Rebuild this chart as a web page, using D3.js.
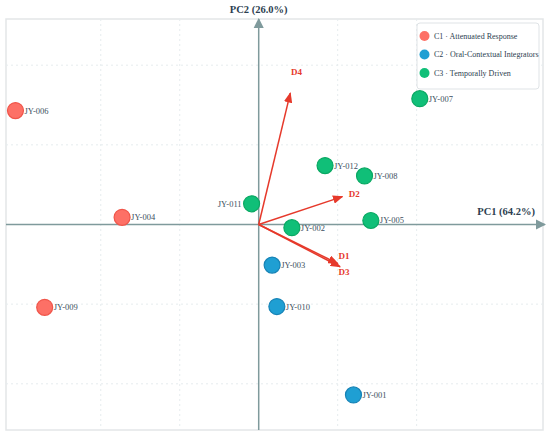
<!DOCTYPE html>
<html>
<head>
<meta charset="utf-8">
<script src="https://cdn.jsdelivr.net/npm/d3@7"></script>
<style>
  body { margin: 0; background: #fff; }
  svg { font-family: "Liberation Serif", "DejaVu Serif", serif; }
</style>
</head>
<body>
<div id="chart"></div>
<script>
// Dados: scores das amostras
var samples = ["JY-006", "JY-004", "JY-011", "JY-009", "JY-007", "JY-012", "JY-008", "JY-005", "JY-002", "JY-003", "JY-010", "JY-001"];
var pc1 = [-3.08, -1.73, -0.09, -2.71, 2.04, 0.84, 1.34, 1.42, 0.42, 0.17, 0.23, 1.20];
var pc2 = [1.43, 0.09, 0.26, -1.04, 1.58, 0.74, 0.61, 0.05, -0.04, -0.51, -1.03, -2.14];
var cluster = ["C1", "C1", "C3", "C1", "C3", "C3", "C3", "C3", "C3", "C2", "C2", "C2"];

// Loadings (setas)
var loadNames = ["D4", "D2", "D1", "D3"];
var loadPC1 = [0.40, 1.06, 1.00, 1.03];
var loadPC2 = [1.65, 0.35, -0.49, -0.53];

// Legenda
var clusterKeys = ["C1", "C2", "C3"];
var clusterLabels = ["C1 · Attenuated Response", "C2 · Oral-Contextual Integrators", "C3 · Temporally Driven"];

var gridTicks = [-2, -1, 1, 2];
var axisLabelX = "PC1 (64.2%)";
var axisLabelY = "PC2 (26.0%)";

// Tamanho do svg
var w = 550, h = 435;
var margin = {top: 19, right: 7, bottom: 5, left: 6};

var svg = d3.select("#chart")
  .append("svg")
  .attr("width", w)
  .attr("height", h);

var x = d3.scaleLinear().domain([-3.2, 3.6]).range([margin.left, w - margin.right]);
var y = d3.scaleLinear().domain([-2.58, 2.58]).range([h - margin.bottom, margin.top]);

var fill = d3.scaleOrdinal().domain(clusterKeys).range(["#fd7066", "#1f9fd3", "#10bf78"]);
var stroke = d3.scaleOrdinal().domain(clusterKeys).range(["#f0554a", "#1783b6", "#0aa863"]);

var axisColor = "#7f9a9c";
var textColor = "#2c3e50";
var arrowRed = "#e6392b";

// Moldura
svg.append("rect")
  .attr("x", x.range()[0])
  .attr("y", y.range()[1])
  .attr("width", x.range()[1] - x.range()[0])
  .attr("height", y.range()[0] - y.range()[1])
  .attr("fill", "none")
  .attr("stroke", "#e3e6e8")
  .attr("stroke-width", 1.5);

// Grade
svg.selectAll("vgrid")
  .data(gridTicks)
  .enter()
  .append("line")
  .attr("x1", function(d){ return x(d); })
  .attr("x2", function(d){ return x(d); })
  .attr("y1", y.range()[1])
  .attr("y2", y.range()[0])
  .attr("stroke", "#e6ecee")
  .attr("stroke-dasharray", "2,3");

svg.selectAll("hgrid")
  .data(gridTicks)
  .enter()
  .append("line")
  .attr("y1", function(d){ return y(d); })
  .attr("y2", function(d){ return y(d); })
  .attr("x1", x.range()[0])
  .attr("x2", x.range()[1])
  .attr("stroke", "#e6ecee")
  .attr("stroke-dasharray", "2,3");

// Marcadores de seta
var defs = svg.append("defs");
defs.append("marker")
  .attr("id", "axisHead")
  .attr("viewBox", "0 0 10 10")
  .attr("refX", 9).attr("refY", 5)
  .attr("markerWidth", 7).attr("markerHeight", 7)
  .attr("markerUnits", "strokeWidth")
  .attr("orient", "auto")
  .append("path")
  .attr("d", "M0,0 L10,5 L0,10 z")
  .attr("fill", axisColor);

defs.append("marker")
  .attr("id", "loadHead")
  .attr("viewBox", "0 0 10 8")
  .attr("refX", 9).attr("refY", 4)
  .attr("markerWidth", 7).attr("markerHeight", 5.6)
  .attr("markerUnits", "strokeWidth")
  .attr("orient", "auto")
  .append("path")
  .attr("d", "M0,0 L10,4 L0,8 z")
  .attr("fill", arrowRed);

// Eixos PC1 e PC2
svg.append("line")
  .attr("x1", x.range()[0]).attr("y1", y(0))
  .attr("x2", x.range()[1] + 2).attr("y2", y(0))
  .attr("stroke", axisColor)
  .attr("stroke-width", 1.5)
  .attr("marker-end", "url(#axisHead)");

svg.append("line")
  .attr("x1", x(0)).attr("y1", y.range()[0])
  .attr("x2", x(0)).attr("y2", y.range()[1])
  .attr("stroke", axisColor)
  .attr("stroke-width", 1.5)
  .attr("marker-end", "url(#axisHead)");

svg.append("text")
  .attr("x", x.range()[1] - 8)
  .attr("y", y(0) - 10)
  .attr("text-anchor", "end")
  .attr("font-weight", "bold")
  .attr("font-size", "10.5px")
  .attr("fill", textColor)
  .text(axisLabelX);

svg.append("text")
  .attr("x", x(0))
  .attr("y", 13)
  .attr("text-anchor", "middle")
  .attr("font-weight", "bold")
  .attr("font-size", "10.5px")
  .attr("fill", textColor)
  .text(axisLabelY);

// Setas de loadings
var loads = loadNames.map(function(n, i){
  return {name: n, a: loadPC1[i], b: loadPC2[i]};
});

svg.selectAll("loadLine")
  .data(loads)
  .enter()
  .append("line")
  .attr("x1", x(0)).attr("y1", y(0))
  .attr("x2", function(d){ return x(d.a); })
  .attr("y2", function(d){ return y(d.b); })
  .attr("stroke", arrowRed)
  .attr("stroke-width", 1.5)
  .attr("marker-end", "url(#loadHead)");

var labelOffset = {D4: [0.08, 0.27], D2: [0.15, 0.04], D1: [0.08, 0.1], D3: [0.05, -0.07]};
svg.selectAll("loadLabel")
  .data(loads)
  .enter()
  .append("text")
  .attr("x", function(d){ return x(d.a + labelOffset[d.name][0]); })
  .attr("y", function(d){ return y(d.b + labelOffset[d.name][1]); })
  .attr("text-anchor", "middle")
  .attr("dy", "0.35em")
  .attr("font-weight", "bold")
  .attr("font-size", "9px")
  .attr("fill", arrowRed)
  .text(function(d){ return d.name; });

// Pontos
var points = samples.map(function(s, i){
  return {id: s, a: pc1[i], b: pc2[i], c: cluster[i]};
});

svg.selectAll("dot")
  .data(points)
  .enter()
  .append("circle")
  .attr("cx", function(d){ return x(d.a); })
  .attr("cy", function(d){ return y(d.b); })
  .attr("r", 8)
  .attr("fill", function(d){ return fill(d.c); })
  .attr("stroke", function(d){ return stroke(d.c); })
  .attr("stroke-width", 1.2);

svg.selectAll("dotLabel")
  .data(points)
  .enter()
  .append("text")
  .attr("x", function(d){ return d.id == "JY-011" ? x(d.a) - 10 : x(d.a) + 9; })
  .attr("y", function(d){ return y(d.b); })
  .attr("dy", "0.35em")
  .attr("text-anchor", function(d){ return d.id == "JY-011" ? "end" : "start"; })
  .attr("font-size", "8.5px")
  .attr("fill", "#3d4f60")
  .text(function(d){ return d.id; });

// Legenda
var legend = svg.append("g").attr("transform", "translate(417,23)");
legend.append("rect")
  .attr("width", 122)
  .attr("height", 66)
  .attr("rx", 3)
  .attr("fill", "#fff")
  .attr("stroke", "#dfe3e6");

legend.selectAll("legDot")
  .data(clusterKeys)
  .enter()
  .append("circle")
  .attr("cx", 7.5)
  .attr("cy", function(d, i){ return 13 + i * 18.5; })
  .attr("r", 5)
  .attr("fill", function(d){ return fill(d); });

legend.selectAll("legText")
  .data(clusterLabels)
  .enter()
  .append("text")
  .attr("x", 17)
  .attr("y", function(d, i){ return 13 + i * 18.5; })
  .attr("dy", "0.35em")
  .attr("font-size", "8px")
  .attr("fill", textColor)
  .text(function(d){ return d; });
</script>
</body>
</html>
